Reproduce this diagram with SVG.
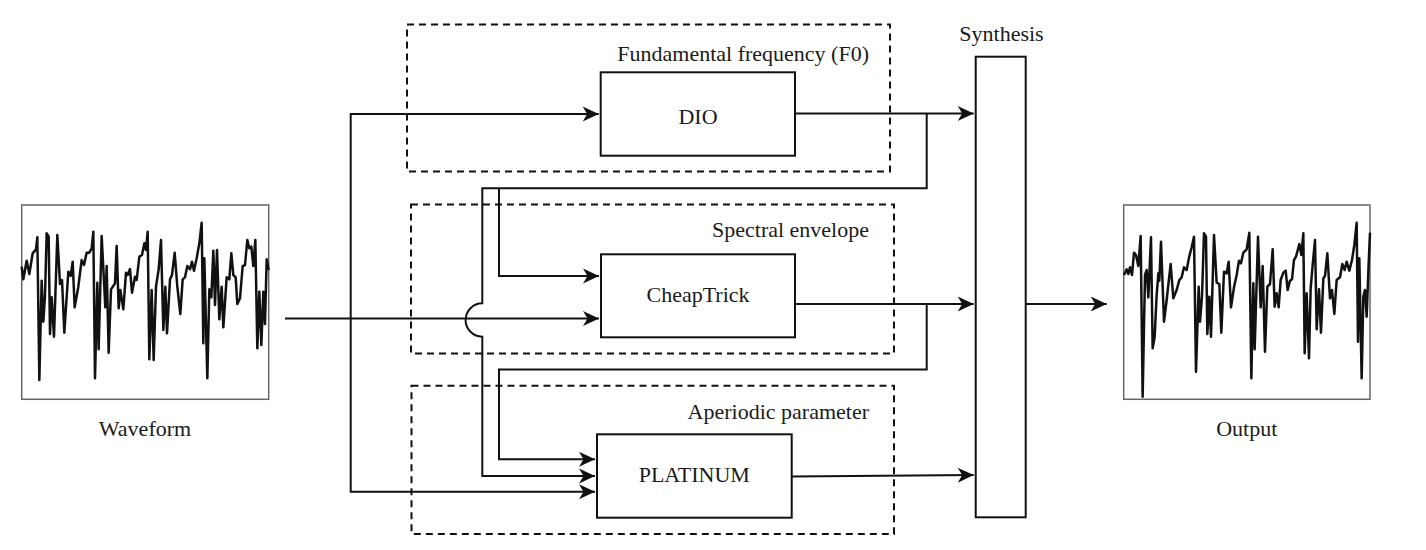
<svg xmlns="http://www.w3.org/2000/svg" width="1426" height="550" viewBox="0 0 1426 550">
<defs>
<marker id="ah" markerUnits="userSpaceOnUse" markerWidth="18" markerHeight="18" viewBox="-17 -9 18 18" refX="0" refY="0" orient="auto">
<path d="M0,0 L-16,-7.5 L-11.5,0 L-16,7.5 Z" fill="#111"/>
</marker>
</defs>
<style>
.box{fill:#fff;stroke:#111;stroke-width:2}
.dash{fill:none;stroke:#111;stroke-width:2;stroke-dasharray:7 5}
.frame{fill:#fff;stroke:#666;stroke-width:1.5}
.wave{fill:none;stroke:#111;stroke-width:7.5;stroke-linejoin:round}
.conn{fill:none;stroke:#111;stroke-width:2}
.lbl{font-family:"Liberation Serif","Times New Roman",serif;font-size:22px;fill:#1a1a1a}
</style>
<rect width="1426" height="550" fill="#fff"/>

<g id="group-f0">
<rect class="dash" x="407" y="24.5" width="483" height="147"/>
<text class="lbl" x="869" y="61" text-anchor="end">Fundamental frequency (F0)</text>
</g>
<g id="group-spectral">
<rect class="dash" x="411" y="204.5" width="483" height="149"/>
<text class="lbl" x="869" y="236.7" text-anchor="end">Spectral envelope</text>
</g>
<g id="group-aperiodic">
<rect class="dash" x="411.5" y="385.7" width="482.5" height="148.3"/>
<text class="lbl" x="869" y="419.3" text-anchor="end">Aperiodic parameter</text>
</g>

<g id="waveform">
<rect class="frame" x="21.7" y="205" width="247" height="194.3"/>
<polyline class="wave" transform="translate(0,190) scale(0.33333)" points="65,230 70,268 80,212 88,252 98,190 108,178 112,142 118,570 125,272 130,395 135,318 140,130 146,140 150,432 155,322 162,440 172,135 180,282 186,270 193,428 205,245 212,258 218,215 224,352 235,290 245,210 252,225 260,188 268,188 275,175 280,125 285,565 292,278 296,478 305,138 316,352 320,228 326,488 333,298 345,280 350,168 356,355 361,300 370,358 378,248 383,255 390,237 396,308 405,260 410,270 418,200 426,195 433,160 438,180 443,125 448,508 455,300 461,510 468,290 476,238 483,150 490,420 496,290 501,430 510,268 516,255 524,188 532,290 541,372 548,268 555,262 562,228 570,238 576,215 582,242 590,205 598,160 605,98 610,460 613,205 622,565 628,298 634,322 640,182 645,345 651,180 658,388 665,290 670,412 680,262 688,268 694,190 700,255 707,262 712,342 720,325 728,228 735,225 742,150 748,175 754,170 760,228 766,150 772,475 778,305 784,465 790,305 795,402 800,208 806,240"/>
<text class="lbl" x="145" y="435.7" text-anchor="middle">Waveform</text>
</g>

<g id="dio">
<rect class="box" x="600.7" y="72.3" width="194.3" height="83.4"/>
<text class="lbl" x="698" y="124" text-anchor="middle">DIO</text>
</g>
<g id="cheaptrick">
<rect class="box" x="601" y="254.3" width="194" height="83"/>
<text class="lbl" x="698" y="301.7" text-anchor="middle">CheapTrick</text>
</g>
<g id="platinum">
<rect class="box" x="597" y="434.3" width="194.7" height="83.4"/>
<text class="lbl" x="694.3" y="482.3" text-anchor="middle">PLATINUM</text>
</g>
<g id="synthesis">
<rect class="box" x="975.7" y="56.7" width="50" height="460.6"/>
<text class="lbl" x="1001.5" y="40.7" text-anchor="middle">Synthesis</text>
</g>

<g id="output">
<rect class="frame" x="1123.7" y="205" width="246.3" height="194.3"/>
<polyline class="wave" transform="translate(1110,190) scale(0.33333)" points="42,255 50,238 55,252 60,232 66,255 72,188 78,195 85,228 92,138 98,620 105,255 110,240 115,322 123,142 128,475 134,440 140,315 145,250 148,272 153,155 162,395 170,330 176,275 182,222 190,325 200,300 208,270 215,262 222,232 230,240 238,198 245,172 252,140 258,545 266,290 270,395 276,320 282,130 288,140 292,432 298,320 303,440 312,135 320,278 328,282 334,428 342,245 350,250 356,215 363,352 372,292 380,255 387,212 393,220 400,188 410,178 418,128 424,565 430,280 434,478 444,140 452,352 458,228 465,485 472,290 480,282 488,178 494,350 500,310 506,352 512,270 520,248 527,242 533,300 540,272 546,268 552,210 558,200 568,162 574,195 580,130 584,490 590,310 597,505 602,295 608,225 615,150 620,418 627,298 633,428 640,265 645,258 652,190 660,325 666,300 673,372 680,270 690,262 697,222 704,240 710,215 718,242 726,210 733,165 740,98 744,455 748,205 755,565 760,320 765,300 770,380 776,220 780,128"/>
<text class="lbl" x="1246.8" y="435.7" text-anchor="middle">Output</text>
</g>

<g id="connectors">
<path class="conn" d="M285,318.5 H599" marker-end="url(#ah)"/>
<path class="conn" d="M350.7,318.5 V114 H598.7" marker-end="url(#ah)"/>
<path class="conn" d="M350.7,318.5 V491.7 H595" marker-end="url(#ah)"/>
<path class="conn" d="M795,113.5 H973.7" marker-end="url(#ah)"/>
<path class="conn" d="M926.7,113.5 V188.3 H482.3 V303.3 A16.7,16.7 0 0 0 482.3,336.7 V476 H595" marker-end="url(#ah)"/>
<path class="conn" d="M499,188.3 V276 H599" marker-end="url(#ah)"/>
<path class="conn" d="M795,304 H973.7" marker-end="url(#ah)"/>
<path class="conn" d="M926.7,304 V369.5 H499 V459.3 H595" marker-end="url(#ah)"/>
<path class="conn" d="M791.7,476.5 L973.7,475" marker-end="url(#ah)"/>
<path class="conn" d="M1025.7,304 H1106.7" marker-end="url(#ah)"/>
</g>
</svg>
